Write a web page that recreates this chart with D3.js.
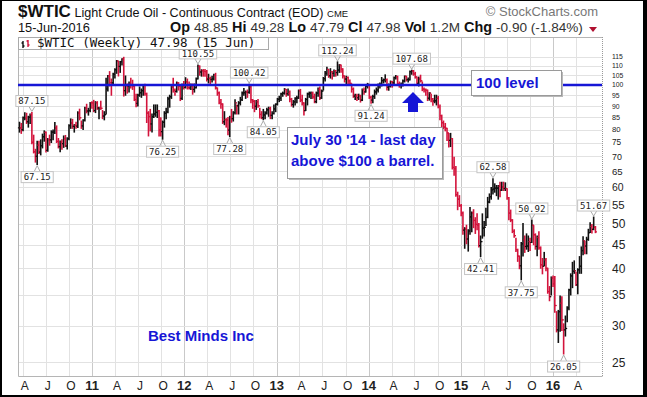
<!DOCTYPE html>
<html>
<head>
<meta charset="utf-8">
<script src="https://cdn.jsdelivr.net/npm/d3@7"></script>
<style>
body { margin: 0; background: #fff; }
svg { display: block; font-family: "Liberation Sans", Arial, sans-serif; }
</style>
</head>
<body>
<div id="chart"></div>
<script>
// weekly bars, one per Friday starting here
const firstWeek = "2010-03-19";

const weekHigh = [
  83.0,82.5,85.2,87.0,86.8,85.5,86.5,87.15,77.8,72.5,75.5,75.5,76.0,78.2,79.5,79.0,76.5,77.8,79.5,79.8,82.9,81.5,76.5,75.6,76.0,77.5,77.7,76.8,82.0,84.4,84.2,82.0,83.0,87.5,88.6,83.5,84.0,89.5,90.8,89.0,91.6,92.0,
  92.6,92.0,92.0,89.5,92.2,88.0,87.5,103.4,104.9,106.9,103.0,106.0,108.5,113.0,112.5,112.5,114.0,114.83,104.6,100.5,101.5,103.4,102.4,99.5,95.5,95.5,99.0,98.0,100.2,100.3,96.0,87.5,88.5,86.5,90.5,90.5,90.5,88.0,84.9,83.5,87.5,89.0,94.0,95.0,99.2,103.4,98.0,101.5,101.2,100.2,100.5,101.8,
  103.7,103.0,101.5,100.5,100.5,100.5,103.5,110.55,110.0,107.9,108.0,108.0,107.5,105.5,104.0,104.5,105.5,106.0,98.5,96.5,93.0,91.0,87.5,84.5,85.0,85.5,88.5,87.5,92.9,90.5,92.0,94.0,96.5,98.3,97.0,97.5,100.42,99.5,93.0,92.5,92.5,93.0,89.0,87.5,88.5,87.5,89.0,89.5,89.5,87.5,90.5,91.0,
  93.5,94.5,96.0,96.5,98.2,97.8,98.0,97.0,93.5,92.5,93.8,94.5,97.5,97.8,95.0,91.5,93.5,96.0,96.5,96.5,96.5,95.5,96.5,98.5,99.0,97.5,103.8,107.0,109.3,108.0,108.5,107.0,107.8,107.5,112.24,110.7,110.5,108.5,104.5,104.5,104.0,102.5,100.5,98.5,95.5,95.5,95.5,95.0,98.0,98.5,99.5,100.8,
  99.5,94.5,95.0,97.5,98.5,100.5,101.0,103.8,103.0,105.2,103.0,100.5,102.0,101.8,104.0,104.9,104.5,101.5,101.0,102.5,104.6,104.5,103.5,107.2,107.68,107.5,106.5,104.0,104.0,105.0,101.5,98.5,98.0,97.5,96.2,95.5,93.5,95.0,95.0,94.5,90.5,86.0,83.5,82.5,80.5,78.5,78.5,76.5,69.7,66.5,58.5,57.5,
  55.0,53.0,49.0,49.6,48.5,54.2,53.0,53.6,51.5,52.5,50.0,47.0,52.5,50.5,54.0,57.0,58.0,59.9,62.58,61.0,60.5,60.5,61.5,61.5,61.5,61.3,59.5,57.0,53.5,51.0,48.5,46.5,44.0,42.5,45.5,50.0,47.0,47.5,47.0,46.5,50.92,49.5,47.5,47.0,48.0,44.5,42.0,43.3,42.0,40.0,36.5,38.3,
  38.5,38.4,32.2,32.4,34.8,34.7,30.3,31.5,33.0,36.0,38.9,41.2,41.5,39.2,39.9,42.4,44.5,46.8,45.8,46.7,48.6,50.2,49.8,51.67,49.28
];

const weekLow = [
  79.0,78.5,79.5,84.0,82.5,81.0,82.5,74.5,71.2,68.0,67.15,71.0,70.5,73.0,75.5,71.5,71.8,74.0,75.0,76.0,78.5,75.0,73.0,71.6,72.5,73.2,73.5,72.6,76.0,80.5,80.5,79.0,80.5,80.8,84.0,80.5,80.0,83.5,87.0,86.0,87.5,89.0,
  87.5,87.1,88.5,84.5,88.5,84.5,84.0,86.5,97.0,99.5,95.0,100.0,103.5,106.0,104.6,106.5,110.5,94.6,95.0,96.0,96.5,98.5,97.8,92.5,89.7,90.0,94.5,94.0,95.0,95.0,82.9,77.5,79.5,79.0,85.0,85.5,85.0,77.5,77.5,76.25,81.0,84.5,87.0,89.5,93.5,96.5,95.0,96.5,97.5,92.5,93.0,98.0,
  98.5,98.0,98.0,97.8,95.5,96.5,98.5,103.0,105.0,104.5,104.5,104.5,102.0,101.0,100.7,101.5,102.5,98.0,95.0,91.0,89.0,82.5,82.0,81.0,78.0,77.28,83.0,83.5,86.5,86.5,86.5,90.5,92.5,95.0,93.5,94.0,96.0,91.5,89.0,87.5,88.5,89.5,84.8,84.5,84.05,84.5,86.5,85.5,84.5,84.5,86.5,87.5,
  90.5,92.0,92.5,94.5,95.5,94.5,95.0,92.0,90.0,89.5,90.5,91.5,93.5,92.0,90.5,86.06,88.0,90.5,94.0,93.5,93.5,91.5,91.5,94.5,93.0,93.5,97.5,102.0,105.0,103.9,103.5,103.0,104.5,104.5,105.0,106.5,106.5,103.5,101.5,100.5,100.5,100.0,96.5,94.0,93.0,92.5,93.0,91.8,92.5,95.5,96.5,98.5,
  93.5,91.24,91.5,93.5,95.5,96.5,98.5,99.5,101.0,101.5,97.5,97.4,99.0,98.9,100.5,103.0,100.0,98.9,98.5,99.5,101.5,102.0,101.5,102.5,105.5,105.0,103.5,100.5,99.5,101.5,97.2,96.5,95.0,92.5,92.7,92.0,90.4,91.5,90.5,89.2,84.0,79.8,80.0,79.5,75.8,73.3,73.5,65.7,63.7,57.3,53.6,54.5,
  52.0,47.4,44.2,45.2,43.58,47.4,48.0,49.0,47.6,48.5,44.5,42.41,46.5,47.0,49.5,51.5,55.5,56.5,58.0,58.5,57.5,56.5,57.2,59.0,59.0,59.0,56.5,51.0,50.5,47.8,46.7,43.5,41.4,39.9,37.75,42.5,43.3,44.0,43.5,43.7,45.5,45.0,44.0,42.6,44.0,40.0,38.9,40.5,39.5,35.3,34.0,35.0,
  36.5,32.1,29.1,27.6,29.2,29.3,26.05,28.5,30.6,32.5,35.0,36.3,39.0,36.7,35.2,39.0,39.0,42.8,43.0,43.0,46.0,47.8,47.7,48.5,47.79
];

const weekClose = [
  80.7,80.0,84.9,84.9,83.2,85.1,86.2,75.1,71.6,70.0,74.0,71.5,73.8,77.2,78.9,72.1,76.1,76.0,79.0,79.0,80.7,75.4,73.5,75.2,74.6,76.5,73.7,76.5,81.6,82.7,81.3,81.7,81.4,86.9,84.9,81.5,83.8,89.2,87.8,88.0,91.5,91.4,
  88.0,91.5,89.1,89.3,89.0,85.6,86.2,98.0,104.4,101.2,101.1,105.4,107.9,112.8,109.7,112.3,113.9,97.2,99.7,99.5,100.6,100.2,99.3,93.0,91.2,95.0,96.2,97.2,99.9,95.7,86.9,85.4,82.3,85.4,86.5,87.2,87.9,79.9,79.2,83.0,86.8,87.4,93.3,94.3,99.0,97.4,96.8,101.0,99.4,93.5,99.7,98.8,
  101.6,98.7,98.5,99.6,97.8,98.7,103.2,109.8,106.7,107.4,107.1,106.9,103.0,103.3,102.8,103.1,104.9,98.5,96.1,91.5,90.9,83.2,84.1,84.0,79.8,85.0,84.5,87.1,91.4,90.1,91.4,92.9,96.0,96.2,96.5,96.4,99.0,92.9,92.2,89.9,91.9,90.1,86.3,84.9,86.1,86.9,88.3,88.9,85.9,86.7,88.7,90.8,
  93.1,93.6,95.6,95.9,97.8,95.7,95.9,93.1,90.7,91.9,93.5,93.7,97.2,92.7,91.3,88.0,93.0,95.6,96.0,96.0,94.2,92.0,96.0,97.9,93.7,97.0,103.2,106.0,108.1,104.7,106.9,106.0,107.5,106.4,107.7,110.5,108.2,104.7,103.0,103.8,102.0,100.8,97.9,94.6,94.6,93.8,94.8,92.7,97.7,96.6,99.3,100.3,
  94.0,92.7,94.4,96.6,97.5,99.9,100.3,102.2,102.6,102.6,98.9,99.5,101.7,101.1,103.7,104.3,100.6,99.8,100.0,102.0,104.4,102.7,102.7,106.9,107.3,105.7,104.1,100.8,103.1,102.1,97.9,97.7,97.4,93.6,96.0,93.3,92.3,92.4,93.5,89.7,85.8,82.8,81.0,80.5,78.7,75.8,76.5,66.2,65.8,57.8,56.5,54.7,
  52.7,48.4,48.7,46.3,48.2,51.7,52.8,50.8,49.8,49.6,44.8,45.7,48.9,49.1,51.6,55.7,57.2,59.2,59.4,59.7,59.7,60.3,59.1,60.0,59.6,59.6,56.9,52.7,50.9,48.1,47.1,43.9,42.5,40.5,45.2,46.1,44.6,44.7,45.7,45.5,49.6,47.3,44.6,46.6,44.3,40.7,40.4,41.7,40.0,35.6,34.7,38.1,
  37.0,33.2,29.4,32.2,33.6,30.9,29.4,29.6,32.8,35.9,38.5,39.4,39.5,36.8,39.7,40.4,43.7,45.9,44.7,46.2,47.8,49.3,48.6,49.1,47.98
];

// swing high / low labels: week date, value, side
const swingLabels = [
  ["2010-05-07", 87.15, "hi"], ["2010-05-28", 67.15, "lo"],
  ["2011-10-07", 76.25, "lo"], ["2012-02-24", 110.55, "hi"],
  ["2012-06-29", 77.28, "lo"], ["2012-09-14", 100.42, "hi"],
  ["2012-11-09", 84.05, "lo"], ["2013-08-30", 112.24, "hi"],
  ["2014-01-10", 91.24, "lo"], ["2014-06-20", 107.68, "hi"],
  ["2015-03-20", 42.41, "lo"], ["2015-05-08", 62.58, "hi"],
  ["2015-08-28", 37.75, "lo"], ["2015-10-09", 50.92, "hi"],
  ["2016-02-12", 26.05, "lo"], ["2016-06-10", 51.67, "hi"]
];

const yTicks = [115,110,105,100,95,90,85,80,75,70,65,60,55,50,45,40,35,30,25];
const statNames = ["Op", "Hi", "Lo", "Cl", "Vol", "Chg"];
const statValues = ["48.85", "49.28", "47.79", "47.98", "1.2M", "-0.90 (-1.84%)"];
const levelValue = 100;

const W = 647, H = 397;
const blue = "#1616d6";
const red = "#d3143c";

const svg = d3.select("#chart").append("svg")
  .attr("width", W).attr("height", H);

// frame
svg.append("rect").attr("width", W).attr("height", H).attr("fill", "#000");
svg.append("rect").attr("x", 2).attr("y", 1).attr("width", 641).attr("height", 394).attr("fill", "#fff");

const parse = d3.timeParse("%Y-%m-%d");
const start = parse(firstWeek);
const bars = weekClose.map((c, i) => ({
  date: d3.timeDay.offset(start, 7 * i),
  hi: weekHigh[i], lo: weekLow[i], cl: c,
  op: i ? weekClose[i - 1] : c
}));

const pL = 18, pR = 602, pT = 37, pB = 376;

const xScale = d3.scaleTime()
  .domain([parse("2010-03-13"), parse("2016-07-13")])
  .range([pL, pR]);
const yScale = d3.scaleLog()
  .domain([23.34, 127.1])
  .range([pB, pT]);

// header
const head = svg.append("text").attr("x", 18).attr("y", 17).attr("fill", "#111");
head.append("tspan").attr("font-size", 17).attr("font-weight", "bold").text("$WTIC");
head.append("tspan").attr("font-size", 12.6).text(" Light Crude Oil - Continuous Contract (EOD) ");
head.append("tspan").attr("font-size", 9.5).text("CME");

svg.append("text").attr("x", 598).attr("y", 16).attr("text-anchor", "end")
  .attr("font-size", 13).attr("fill", "#777").text("\u00A9 StockCharts.com");

svg.append("text").attr("x", 18).attr("y", 32).attr("font-size", 12.8).attr("fill", "#111").text("15-Jun-2016");

const stats = svg.append("text").attr("x", 170).attr("y", 32).attr("fill", "#111");
statNames.forEach((n, i) => {
  stats.append("tspan").attr("font-size", 14.4).attr("font-weight", "bold").text((i ? " " : "") + n + " ");
  stats.append("tspan").attr("font-size", 13.6).attr("fill", "#333").text(statValues[i]);
});
svg.append("path").attr("d", "M589,27 L597,27 L593,32 Z").attr("fill", "#b01030");

// grid
const quarters = d3.timeMonths(parse("2010-04-01"), parse("2016-07-01"), 3);
const grid = svg.append("g");
grid.selectAll("line.v").data(quarters).enter().append("line")
  .attr("x1", d => Math.round(xScale(d)) + 0.5).attr("x2", d => Math.round(xScale(d)) + 0.5)
  .attr("y1", pT).attr("y2", pB)
  .attr("stroke", d => d.getMonth() === 0 ? "#c9c9c9" : "#e2e2e2");
grid.selectAll("line.h").data(yTicks).enter().append("line")
  .attr("x1", pL).attr("x2", pR)
  .attr("y1", d => Math.round(yScale(d)) + 0.5).attr("y2", d => Math.round(yScale(d)) + 0.5)
  .attr("stroke", "#e2e2e2");

// plot borders
svg.append("path").attr("d", `M${pL + 0.5},${pT + 0.5} V${pB + 0.5} H${pR + 0.5}`)
  .attr("fill", "none").attr("stroke", "#b5b5b5");
svg.append("line").attr("x1", pL).attr("x2", pR).attr("y1", pT + 0.5).attr("y2", pT + 0.5).attr("stroke", "#b5b5b5");
svg.append("line").attr("x1", pR + 0.5).attr("x2", pR + 0.5).attr("y1", pT).attr("y2", pB)
  .attr("stroke", "#999").attr("stroke-dasharray", "1,1");

// right axis labels, shrunk where the log ticks crowd together
yTicks.forEach((v, i) => {
  const gap = i < yTicks.length - 1 ? yScale(yTicks[i + 1]) - yScale(v) : 40;
  const fs = Math.min(12, Math.max(6.8, gap * 0.6));
  svg.append("text").attr("x", 612).attr("y", yScale(v)).attr("dy", "0.36em")
    .attr("font-size", fs).attr("fill", "#222").text(v);
});

// bottom axis labels
svg.selectAll("text.xl").data(quarters).enter().append("text")
  .attr("x", d => xScale(d) + (d.getMonth() === 0 ? 0 : 2)).attr("y", 390).attr("text-anchor", "middle")
  .attr("font-size", d => d.getMonth() === 0 ? 13 : 12)
  .attr("font-weight", d => d.getMonth() === 0 ? "bold" : "normal")
  .attr("fill", "#222")
  .text(d => d.getMonth() === 0 ? d3.timeFormat("%y")(d) : d3.timeFormat("%b")(d)[0]);

// OHLC bars
const barG = svg.append("g");
bars.forEach(b => {
  const x = xScale(b.date);
  const col = b.cl >= b.op ? "#111" : red;
  barG.append("line").attr("x1", x).attr("x2", x)
    .attr("y1", yScale(b.hi) - 0.5).attr("y2", yScale(b.lo) + 0.5).attr("stroke", col).attr("stroke-width", 1.6);
  barG.append("line").attr("x1", x - 1.6).attr("x2", x)
    .attr("y1", yScale(b.op)).attr("y2", yScale(b.op)).attr("stroke", col).attr("stroke-width", 1.2);
  barG.append("line").attr("x1", x).attr("x2", x + 1.6)
    .attr("y1", yScale(b.cl)).attr("y2", yScale(b.cl)).attr("stroke", col).attr("stroke-width", 1.2);
});

// swing labels
swingLabels.forEach(p => {
  const cx = xScale(parse(p[0])), ty = yScale(p[1]);
  const txt = p[1].toFixed(2);
  const w = txt.length * 5.42 + 5, h = 11;
  const up = p[2] === "hi";
  const by = up ? ty - 6 - h : ty + 7;
  const edge = up ? by + h : by;
  svg.append("path")
    .attr("d", `M${cx - 3},${edge} L${cx},${up ? ty - 1 : ty + 1} L${cx + 3},${edge}`)
    .attr("fill", "none").attr("stroke", "#aaa");
  svg.append("rect").attr("x", cx - w / 2).attr("y", by).attr("width", w).attr("height", h)
    .attr("fill", "#fff").attr("fill-opacity", 0.92).attr("stroke", "#c4c4c4");
  svg.append("text").attr("x", cx).attr("y", by + h - 2.3).attr("text-anchor", "middle")
    .attr("font-family", "DejaVu Sans Mono, monospace").attr("font-size", 9)
    .attr("fill", "#222").text(txt);
});

// legend box
svg.append("rect").attr("x", 18.5).attr("y", 37.5).attr("width", 250).attr("height", 12)
  .attr("fill", "#fff").attr("stroke", "#aaa");
svg.append("path").attr("d", "M23,41 V48 M21.5,43 H23 M23,46 H24.5").attr("stroke", "#111").attr("stroke-width", 1.4).attr("fill", "none");
svg.append("path").attr("d", "M28,40 V47 M26.5,41 H28 M28,45 H29.5").attr("stroke", red).attr("stroke-width", 1.4).attr("fill", "none");
svg.append("text").attr("x", 37).attr("y", 47.3)
  .attr("font-family", "DejaVu Sans Mono, monospace").attr("font-size", 12.5).attr("fill", "#111")
  .text("$WTIC (Weekly) 47.98 (15 Jun)");

// 100 level line
svg.append("line").attr("x1", pL).attr("x2", pR)
  .attr("y1", yScale(levelValue)).attr("y2", yScale(levelValue))
  .attr("stroke", blue).attr("stroke-width", 2.5);

function noteBox(x, y, w, h) {
  svg.append("rect").attr("x", x + 2).attr("y", y + 2).attr("width", w).attr("height", h).attr("fill", "#b8b8b8");
  svg.append("rect").attr("x", x + 0.5).attr("y", y + 0.5).attr("width", w).attr("height", h)
    .attr("fill", "#fff").attr("stroke", "#9a9a9a");
}

noteBox(471, 70, 90, 25);
svg.append("text").attr("x", 476).attr("y", 88).attr("font-size", 15).attr("font-weight", "bold")
  .attr("fill", blue).text("100 level");

noteBox(287, 127, 155, 51);
const note = svg.append("text").attr("font-size", 15).attr("font-weight", "bold").attr("fill", blue);
note.append("tspan").attr("x", 291).attr("y", 145).text("July 30 '14 - last day");
note.append("tspan").attr("x", 291).attr("y", 166).text("above $100 a barrel.");

// arrow
svg.append("path").attr("d", "M413,92 L424,103 L418,103 L418,112 L408,112 L408,103 L402,103 Z").attr("fill", blue);

svg.append("text").attr("x", 148).attr("y", 341).attr("font-size", 15).attr("font-weight", "bold")
  .attr("fill", blue).text("Best Minds Inc");
</script>
</body>
</html>
